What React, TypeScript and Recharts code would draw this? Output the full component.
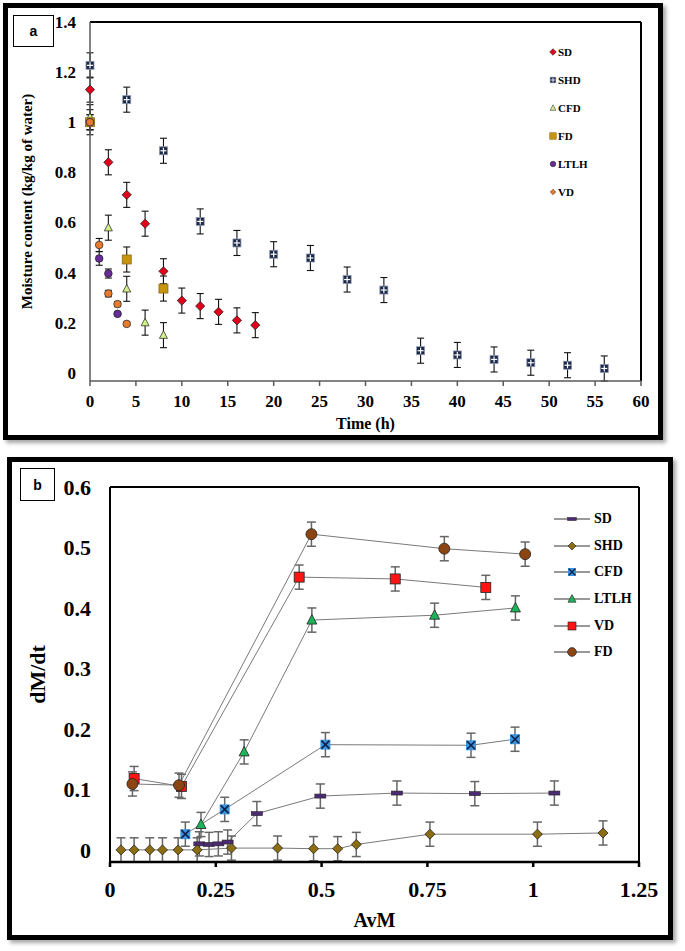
import React from 'react';
import { ScatterChart, Scatter, LineChart, Line, XAxis, YAxis, ErrorBar, ReferenceLine, Legend, Label } from 'recharts';

const SERIF = '"Liberation Serif", "Times New Roman", "DejaVu Serif", serif';

// ---- panel a : moisture content vs drying time ----
const sdTime = [0, 2, 4, 6, 8, 10, 12, 14, 16, 18];
const sdMoisture = [1.13, 0.84, 0.71, 0.595, 0.405, 0.288, 0.266, 0.243, 0.209, 0.19];
const sdErr = [0.05, 0.05, 0.05, 0.05, 0.05, 0.05, 0.05, 0.05, 0.05, 0.05];

const shdTime = [0, 4, 8, 12, 16, 20, 24, 28, 32, 36, 40, 44, 48, 52, 56];
const shdMoisture = [1.227, 1.09, 0.886, 0.604, 0.518, 0.473, 0.458, 0.372, 0.33, 0.088, 0.071, 0.053, 0.04, 0.03, 0.017];
const shdErr = [0.05, 0.05, 0.05, 0.05, 0.05, 0.05, 0.05, 0.05, 0.05, 0.05, 0.05, 0.05, 0.05, 0.05, 0.05];

const cfdTime = [0, 2, 4, 6, 8];
const cfdMoisture = [1.02, 0.579, 0.335, 0.2, 0.15];
const cfdErr = [0.05, 0.05, 0.05, 0.05, 0.05];

const fdTime = [0, 4, 8];
const fdMoisture = [1.0, 0.452, 0.336];
const fdErr = [0.05, 0.05, 0.05];

const ltlhTime = [0, 1, 2, 3];
const ltlhMoisture = [1.0, 0.456, 0.396, 0.235];
const ltlhErr = [0.03, 0.027, 0.018, 0.005];

const vdTime = [0, 1, 2, 3, 4];
const vdMoisture = [1.0, 0.51, 0.316, 0.274, 0.195];
const vdErr = [0.03, 0.026, 0.013, 0.01, 0.006];

const timeTicks = [0, 5, 10, 15, 20, 25, 30, 35, 40, 45, 50, 55, 60];
const moistureTicks = [0, 0.2, 0.4, 0.6, 0.8, 1, 1.2, 1.4];

// ---- panel b : drying rate vs AvM ----
const sdAvm = [0.211, 0.234, 0.256, 0.278, 0.347, 0.497, 0.678, 0.862, 1.05];
const sdRate = [0.01, 0.009, 0.01, 0.013, 0.06, 0.089, 0.094, 0.093, 0.094];
const sdRateErr = [0.02, 0.02, 0.02, 0.02, 0.02, 0.02, 0.02, 0.02, 0.02];

const shdAvm = [0.026, 0.057, 0.094, 0.124, 0.161, 0.206, 0.287, 0.396, 0.481, 0.538, 0.582, 0.756, 1.01, 1.165];
const shdRate = [0, 0, 0, 0, 0, 0, 0.003, 0.003, 0.002, 0.002, 0.009, 0.026, 0.026, 0.028];
const shdRateErr = [0.02, 0.02, 0.02, 0.02, 0.02, 0.02, 0.02, 0.02, 0.02, 0.02, 0.02, 0.02, 0.02, 0.02];

const cfdAvm = [0.178, 0.271, 0.509, 0.853, 0.957];
const cfdRate = [0.026, 0.067, 0.174, 0.173, 0.183];
const cfdRateErr = [0.02, 0.02, 0.02, 0.02, 0.02];

const ltlhAvm = [0.215, 0.317, 0.477, 0.767, 0.958];
const ltlhRate = [0.042, 0.162, 0.38, 0.388, 0.4];
const ltlhRateErr = [0.02, 0.02, 0.02, 0.02, 0.02];

const vdAvm = [0.057, 0.169, 0.447, 0.674, 0.888];
const vdRate = [0.118, 0.105, 0.451, 0.448, 0.434];
const vdRateErr = [0.02, 0.02, 0.02, 0.02, 0.02];

const fdAvm = [0.053, 0.163, 0.476, 0.79, 0.981];
const fdRate = [0.109, 0.107, 0.522, 0.498, 0.489];
const fdRateErr = [0.02, 0.02, 0.02, 0.02, 0.02];

const avmTicks = [0, 0.25, 0.5, 0.75, 1, 1.25];
const rateTicks = [0, 0.1, 0.2, 0.3, 0.4, 0.5, 0.6];

const zip = (xs: number[], ys: number[], es: number[]) => xs.map((x, i) => ({ x, y: ys[i], err: es[i] }));

type Kind = 'sdA' | 'shdA' | 'cfdA' | 'fdA' | 'ltlhA' | 'vdA' | 'vdALeg' | 'sdB' | 'shdB' | 'cfdB' | 'ltlhB' | 'vdB' | 'fdB';

const diamond = (cx: number, cy: number, r: number) => `${cx},${cy - r} ${cx + r},${cy} ${cx},${cy + r} ${cx - r},${cy}`;
const triangle = (cx: number, cy: number, s: number) =>
  `${cx},${cy - s * 0.55} ${cx + s / 2},${cy + s * 0.4} ${cx - s / 2},${cy + s * 0.4}`;

const Marker = ({ kind, cx, cy }: { kind: Kind; cx: number; cy: number }) => {
  if (cx == null || cy == null) return null;
  switch (kind) {
    case 'sdA':
      return <polygon points={diamond(cx, cy, 4.6)} fill="#e3001b" stroke="#222" strokeWidth={0.8} />;
    case 'shdA':
      return (
        <g>
          <rect x={cx - 4} y={cy - 4} width={8} height={8} fill="#1c2848" stroke="#8d98b0" strokeWidth={0.8} />
          <line x1={cx - 3} y1={cy} x2={cx + 3} y2={cy} stroke="#fff" strokeWidth={1.2} />
          <line x1={cx} y1={cy - 3} x2={cx} y2={cy + 3} stroke="#fff" strokeWidth={1.2} />
        </g>
      );
    case 'cfdA':
      return <polygon points={triangle(cx, cy, 8)} fill="#d2f08a" stroke="#333" strokeWidth={0.8} />;
    case 'fdA':
      return <rect x={cx - 4.5} y={cy - 4.5} width={9} height={9} fill="#c8940e" stroke="#8a6a1a" strokeWidth={0.8} />;
    case 'ltlhA':
      return <circle cx={cx} cy={cy} r={3.8} fill="#6a2b9a" stroke="#222" strokeWidth={0.8} />;
    case 'vdA':
      return <circle cx={cx} cy={cy} r={3.8} fill="#e87a2e" stroke="#333" strokeWidth={0.8} />;
    case 'vdALeg':
      return <polygon points={diamond(cx, cy, 3.8)} fill="#e87a2e" stroke="#333" strokeWidth={0.8} />;
    case 'sdB':
      return <rect x={cx - 5.5} y={cy - 2} width={11} height={4} fill="#4d2a74" stroke="#222" strokeWidth={0.6} />;
    case 'shdB':
      return <polygon points={diamond(cx, cy, 5)} fill="#8c6d12" stroke="#222" strokeWidth={0.8} />;
    case 'cfdB':
      return (
        <g>
          <rect x={cx - 5} y={cy - 5} width={10} height={10} fill="#3b95dc" />
          <line x1={cx - 4} y1={cy - 4} x2={cx + 4} y2={cy + 4} stroke="#10204a" strokeWidth={1.6} />
          <line x1={cx - 4} y1={cy + 4} x2={cx + 4} y2={cy - 4} stroke="#10204a" strokeWidth={1.6} />
        </g>
      );
    case 'ltlhB':
      return <polygon points={triangle(cx, cy, 10)} fill="#1db35a" stroke="#222" strokeWidth={0.8} />;
    case 'vdB':
      return <rect x={cx - 5} y={cy - 5} width={10} height={10} fill="#ff1414" stroke="#222" strokeWidth={0.8} />;
    case 'fdB':
      return <circle cx={cx} cy={cy} r={5.5} fill="#8b4513" stroke="#222" strokeWidth={0.8} />;
  }
  return null;
};

const seriesA: { name: string; kind: Kind; legend: Kind; data: { x: number; y: number; err: number }[] }[] = [
  { name: 'SD', kind: 'sdA', legend: 'sdA', data: zip(sdTime, sdMoisture, sdErr) },
  { name: 'SHD', kind: 'shdA', legend: 'shdA', data: zip(shdTime, shdMoisture, shdErr) },
  { name: 'CFD', kind: 'cfdA', legend: 'cfdA', data: zip(cfdTime, cfdMoisture, cfdErr) },
  { name: 'FD', kind: 'fdA', legend: 'fdA', data: zip(fdTime, fdMoisture, fdErr) },
  { name: 'LTLH', kind: 'ltlhA', legend: 'ltlhA', data: zip(ltlhTime, ltlhMoisture, ltlhErr) },
  { name: 'VD', kind: 'vdA', legend: 'vdALeg', data: zip(vdTime, vdMoisture, vdErr) },
];

const seriesB: { name: string; kind: Kind; data: { x: number; y: number; err: number }[] }[] = [
  { name: 'SD', kind: 'sdB', data: zip(sdAvm, sdRate, sdRateErr) },
  { name: 'SHD', kind: 'shdB', data: zip(shdAvm, shdRate, shdRateErr) },
  { name: 'CFD', kind: 'cfdB', data: zip(cfdAvm, cfdRate, cfdRateErr) },
  { name: 'LTLH', kind: 'ltlhB', data: zip(ltlhAvm, ltlhRate, ltlhRateErr) },
  { name: 'VD', kind: 'vdB', data: zip(vdAvm, vdRate, vdRateErr) },
  { name: 'FD', kind: 'fdB', data: zip(fdAvm, fdRate, fdRateErr) },
];

const LegendA = () => (
  <div style={{ fontFamily: SERIF, fontWeight: 'bold', fontSize: 11, color: '#000' }}>
    {seriesA.map((s) => (
      <div key={s.name} style={{ display: 'flex', alignItems: 'center', height: 28 }}>
        <svg width={8} height={8} style={{ marginRight: 1 }}>
          <g transform="translate(4,4) scale(0.72)">
            <Marker kind={s.legend} cx={0} cy={0} />
          </g>
        </svg>
        <span>{s.name}</span>
      </div>
    ))}
  </div>
);

const LegendB = () => (
  <div style={{ fontFamily: SERIF, fontWeight: 'bold', fontSize: 14, color: '#000' }}>
    {seriesB.map((s) => (
      <div key={s.name} style={{ display: 'flex', alignItems: 'center', height: 26.6 }}>
        <svg width={36} height={14} style={{ marginRight: 4 }}>
          <line x1={0} y1={7} x2={36} y2={7} stroke="#333" strokeWidth={1} />
          <g transform="translate(18,7) scale(0.8)">
            <Marker kind={s.kind} cx={0} cy={0} />
          </g>
        </svg>
        <span>{s.name}</span>
      </div>
    ))}
  </div>
);

const frame = (left: number, top: number, width: number, height: number): React.CSSProperties => ({
  position: 'absolute',
  left,
  top,
  width,
  height,
  boxSizing: 'border-box',
  border: '5px solid #000',
  background: '#fff',
  boxShadow: '3px 3px 4px rgba(0,0,0,0.35)',
});

const tagBox = (left: number, top: number, width: number, height: number): React.CSSProperties => ({
  position: 'absolute',
  left,
  top,
  width,
  height,
  boxSizing: 'border-box',
  border: '1px solid #000',
  display: 'flex',
  alignItems: 'center',
  justifyContent: 'center',
  fontFamily: '"Liberation Sans", Arial, sans-serif',
  fontWeight: 'bold',
  fontSize: 14,
});

const tickA = { fill: '#000', fontSize: 17, fontWeight: 'bold', fontFamily: SERIF };
const tickB = { fill: '#000', fontSize: 22, fontWeight: 'bold', fontFamily: SERIF };

export default function App() {
  return (
    <div style={{ position: 'absolute', left: 0, top: 0, width: 685, height: 951, background: '#fff' }}>
      <div style={frame(3, 3, 660, 437)} />
      <div style={frame(7, 457, 666, 483)} />

      <div style={{ position: 'absolute', left: 0, top: 0 }}>
        <ScatterChart width={660} height={437} margin={{ top: 22, right: 19, bottom: 0, left: 0 }}>
          <XAxis
            type="number"
            dataKey="x"
            domain={[0, 60]}
            ticks={timeTicks}
            interval={0}
            stroke="#5a5a5a"
            strokeWidth={1.5}
            tickSize={5}
            tickMargin={9}
            tick={tickA}
            height={56}
          >
            <Label value="Time (h)" position="insideBottom" offset={8} style={{ fill: '#000', fontSize: 16, fontWeight: 'bold', fontFamily: SERIF }} />
          </XAxis>
          <YAxis
            type="number"
            dataKey="y"
            domain={[0, 1.4]}
            ticks={moistureTicks}
            interval={0}
            stroke="#5a5a5a"
            strokeWidth={1.5}
            tickLine={false}
            tickSize={0}
            tickMargin={14}
            tick={tickA}
            width={90}
          >
            <Label
              value="Moisture content (kg/kg of water)"
              angle={-90}
              position="insideLeft"
              offset={27}
              style={{ textAnchor: 'middle', fill: '#000', fontSize: 15, fontWeight: 'bold', fontFamily: SERIF }}
            />
          </YAxis>
          <ReferenceLine y={1.4} stroke="#000" strokeWidth={2} />
          <ReferenceLine x={60} stroke="#000" strokeWidth={2} />
          {seriesA.map((s) => (
            <Scatter
              key={s.name}
              name={s.name}
              data={s.data}
              isAnimationActive={false}
              shape={(p: any) => <Marker kind={s.kind} cx={p.cx} cy={p.cy} />}
            >
              <ErrorBar dataKey="err" direction="y" width={3.5} stroke="#111" strokeWidth={1.1} />
            </Scatter>
          ))}
          <Legend
            layout="horizontal"
            verticalAlign="middle"
            align="center"
            wrapperStyle={{ left: 549, top: 38, width: 80 }}
            content={() => <LegendA />}
          />
        </ScatterChart>
      </div>

      <div style={{ position: 'absolute', left: 0, top: 450 }}>
        <LineChart width={670} height={485} margin={{ top: 37, right: 31, bottom: 0, left: 0 }}>
          <XAxis
            type="number"
            dataKey="x"
            domain={[0, 1.25]}
            ticks={avmTicks}
            interval={0}
            stroke="#000"
            strokeWidth={2.5}
            tickSize={5}
            tickMargin={14}
            tick={tickB}
            height={73}
            allowDuplicatedCategory={false}
          >
            <Label value="AvM" position="insideBottom" offset={8} style={{ fill: '#000', fontSize: 20, fontWeight: 'bold', fontFamily: SERIF }} />
          </XAxis>
          <YAxis
            type="number"
            dataKey="y"
            domain={[0, 0.6]}
            ticks={rateTicks}
            interval={0}
            stroke="#000"
            strokeWidth={2}
            tickLine={false}
            tickSize={0}
            tickMargin={19}
            tick={tickB}
            width={110}
          >
            <Label
              value="dM/dt"
              angle={-90}
              position="insideLeft"
              offset={37}
              style={{ textAnchor: 'middle', fill: '#000', fontSize: 22, fontWeight: 'bold', fontFamily: SERIF }}
            />
          </YAxis>
          <ReferenceLine y={0.6} stroke="#000" strokeWidth={2} />
          <ReferenceLine x={1.25} stroke="#000" strokeWidth={2} />
          {seriesB.map((s) => (
            <Line
              key={s.name}
              name={s.name}
              data={s.data}
              dataKey="y"
              type="linear"
              stroke="#7a7a7a"
              strokeWidth={1}
              isAnimationActive={false}
              dot={(p: any) => <Marker key={`${s.name}-${p.index}`} kind={s.kind} cx={p.cx} cy={p.cy} />}
              activeDot={false}
            >
              <ErrorBar dataKey="err" direction="y" width={4.5} stroke="#666" strokeWidth={1.5} />
            </Line>
          ))}
          <Legend
            layout="horizontal"
            verticalAlign="middle"
            align="center"
            wrapperStyle={{ left: 554, top: 56, width: 100 }}
            content={() => <LegendB />}
          />
        </LineChart>
      </div>

      <div style={tagBox(13, 15, 41, 32)}>a</div>
      <div style={tagBox(20, 468, 35, 33)}>b</div>
    </div>
  );
}
